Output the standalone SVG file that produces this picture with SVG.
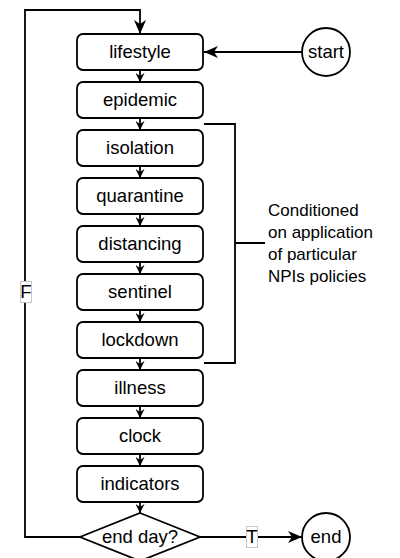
<svg xmlns="http://www.w3.org/2000/svg" width="400" height="558" viewBox="0 0 400 558">
<style>
.box{fill:#fff;stroke:#000;stroke-width:1.8}
.t{font-family:"Liberation Sans",Arial,sans-serif;font-size:18.5px;fill:#000;text-anchor:middle}
.n{font-family:"Liberation Sans",Arial,sans-serif;font-size:17px;fill:#000}
.ln{fill:none;stroke:#000;stroke-width:1.8}
.lbl{fill:#fff;stroke:#c8c8c8;stroke-width:1}
</style>
<defs>
<marker id="big" viewBox="0 0 14 12" refX="14" refY="6" markerWidth="14" markerHeight="12" markerUnits="userSpaceOnUse" orient="auto">
<path d="M0,0 L14,6 L0,12 L4,6 z" fill="#000"/>
</marker>
<marker id="small" viewBox="0 0 9 9" refX="9" refY="4.5" markerWidth="9" markerHeight="9" markerUnits="userSpaceOnUse" orient="auto">
<path d="M0,0 L9,4.5 L0,9 L3,4.5 z" fill="#000"/>
</marker>
</defs>
<g id="connectors">
<path class="ln" d="M302,52 H204" marker-end="url(#big)"/>
<path class="ln" d="M140,70 V82" marker-end="url(#small)"/>
<path class="ln" d="M140,118 V130" marker-end="url(#small)"/>
<path class="ln" d="M140,166 V178" marker-end="url(#small)"/>
<path class="ln" d="M140,214 V226" marker-end="url(#small)"/>
<path class="ln" d="M140,262 V274" marker-end="url(#small)"/>
<path class="ln" d="M140,310 V322" marker-end="url(#small)"/>
<path class="ln" d="M140,358 V370" marker-end="url(#small)"/>
<path class="ln" d="M140,406 V418" marker-end="url(#small)"/>
<path class="ln" d="M140,454 V466" marker-end="url(#small)"/>
<path class="ln" d="M140,502 V513" marker-end="url(#small)"/>
<path class="ln" d="M80,537 H25 V10 H140 V34" marker-end="url(#big)"/>
<path class="ln" d="M200,537 H302" marker-end="url(#big)"/>
<path class="ln" d="M204,124 H235 V363 H204 M235,243 H265"/>
<rect class="lbl" x="20.5" y="281.5" width="11" height="21"/>
<text class="t" x="26" y="298">F</text>
<rect class="lbl" x="246.5" y="526.5" width="11" height="21"/>
<text class="t" x="252" y="543">T</text>
</g>
<g id="start"><circle class="box" cx="326" cy="52" r="24"/><text class="t" x="326" y="58">start</text></g>
<g id="lifestyle"><rect class="box" x="77" y="34" width="126" height="36" rx="6"/><text class="t" x="140" y="58">lifestyle</text></g>
<g id="epidemic"><rect class="box" x="77" y="82" width="126" height="36" rx="6"/><text class="t" x="140" y="106">epidemic</text></g>
<g id="isolation"><rect class="box" x="77" y="130" width="126" height="36" rx="6"/><text class="t" x="140" y="154">isolation</text></g>
<g id="quarantine"><rect class="box" x="77" y="178" width="126" height="36" rx="6"/><text class="t" x="140" y="202">quarantine</text></g>
<g id="distancing"><rect class="box" x="77" y="226" width="126" height="36" rx="6"/><text class="t" x="140" y="250">distancing</text></g>
<g id="sentinel"><rect class="box" x="77" y="274" width="126" height="36" rx="6"/><text class="t" x="140" y="298">sentinel</text></g>
<g id="lockdown"><rect class="box" x="77" y="322" width="126" height="36" rx="6"/><text class="t" x="140" y="346">lockdown</text></g>
<g id="illness"><rect class="box" x="77" y="370" width="126" height="36" rx="6"/><text class="t" x="140" y="394">illness</text></g>
<g id="clock"><rect class="box" x="77" y="418" width="126" height="36" rx="6"/><text class="t" x="140" y="442">clock</text></g>
<g id="indicators"><rect class="box" x="77" y="466" width="126" height="36" rx="6"/><text class="t" x="140" y="490">indicators</text></g>
<g id="endday"><path class="box" d="M140,513 L200,537 L140,561 L80,537 Z"/><text class="t" x="140" y="543">end day?</text></g>
<g id="end"><circle class="box" cx="326" cy="537" r="24"/><text class="t" x="326" y="543">end</text></g>
<g id="note">
<text class="n" x="268" y="216">Conditioned</text>
<text class="n" x="268" y="238">on application</text>
<text class="n" x="268" y="260">of particular</text>
<text class="n" x="268" y="282">NPIs policies</text>
</g>
</svg>
